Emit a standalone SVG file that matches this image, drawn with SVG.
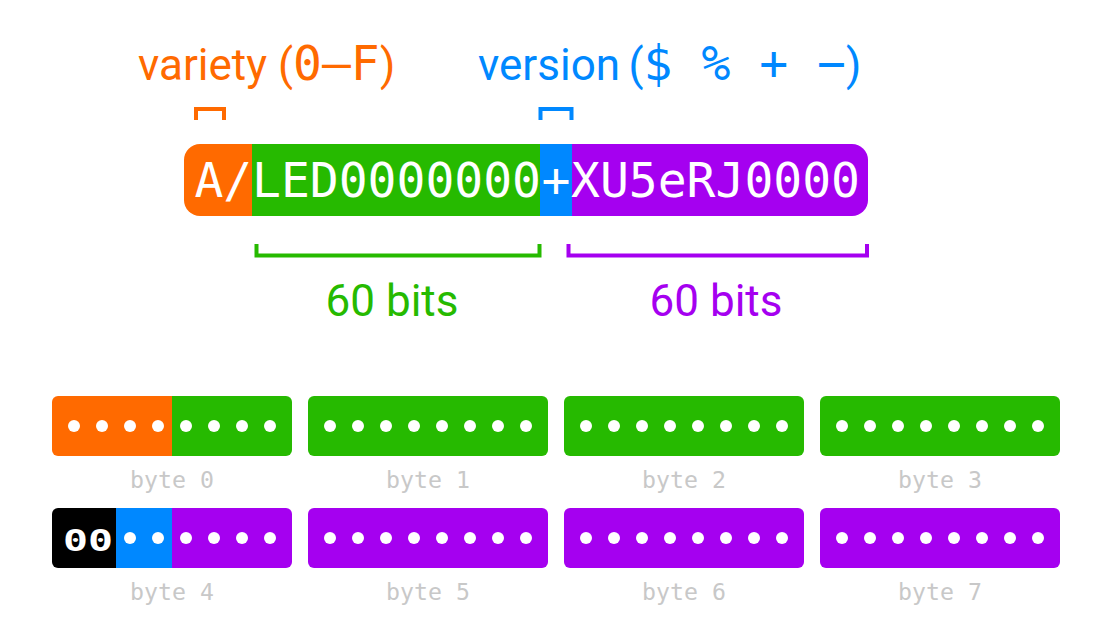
<svg xmlns="http://www.w3.org/2000/svg" width="1108" height="620" viewBox="0 0 1108 620">
<style>
.sans{font-family:Roboto,"Liberation Sans",sans-serif}
.mono{font-family:"DejaVu Sans Mono","Liberation Mono",monospace}
.or{fill:#ff6a00}.gr{fill:#26ba00}.bl{fill:#0088ff}.pu{fill:#a500f0}.bk{fill:#000}
.dot{fill:#fff}
.lbl{font-family:"DejaVu Sans Mono","Liberation Mono",monospace;font-size:23.2px;fill:#c8c8c8;text-anchor:middle}
.br{fill:none;stroke-width:4}
</style>
<defs>
<clipPath id="barClip"><rect x="184" y="144" width="684" height="72" rx="16"/></clipPath>
<clipPath id="b0Clip"><rect x="52" y="396" width="240" height="60" rx="6"/></clipPath>
<clipPath id="b4Clip"><rect x="52" y="508" width="240" height="60" rx="6"/></clipPath>
<g id="dots8">
<circle class="dot" cx="74" cy="0" r="6"/><circle class="dot" cx="102" cy="0" r="6"/><circle class="dot" cx="130" cy="0" r="6"/><circle class="dot" cx="158" cy="0" r="6"/><circle class="dot" cx="186" cy="0" r="6"/><circle class="dot" cx="214" cy="0" r="6"/><circle class="dot" cx="242" cy="0" r="6"/><circle class="dot" cx="270" cy="0" r="6"/>
</g>
</defs>

<g id="label-variety">
<text y="80" font-size="44" class="or"><tspan class="sans" x="138">variety</tspan><tspan class="sans" x="278">(</tspan><tspan class="mono" x="293" font-size="48">0–F</tspan><tspan class="sans" x="380">)</tspan></text>
</g>
<g id="label-version">
<text y="80" font-size="44" class="bl"><tspan class="sans" x="478">version</tspan><tspan class="sans" x="628.5">(</tspan><tspan class="mono" x="643.6" font-size="48">$ % + −</tspan><tspan class="sans" x="846">)</tspan></text>
</g>

<g id="id-bar">
<g clip-path="url(#barClip)">
<rect class="or" x="184" y="144" width="68" height="72"/>
<rect class="gr" x="252" y="144" width="288" height="72"/>
<rect class="bl" x="540" y="144" width="32" height="72"/>
<rect class="pu" x="572" y="144" width="296" height="72"/>
</g>
<text class="mono" y="197" font-size="48" fill="#fff"><tspan x="194.4">A/</tspan><tspan x="252">LED0000000</tspan><tspan x="541.6">+</tspan><tspan x="571">XU5eRJ0000</tspan></text>
</g>

<g id="connectors">
<path class="br" stroke="#ff6a00" d="M196,120 V109 H224 V120"/>
<path class="br" stroke="#0088ff" d="M540.5,120 V109 H571.5 V120"/>
<path class="br" stroke="#26ba00" d="M256.5,244 V255.5 H539.5 V244"/>
<path class="br" stroke="#a500f0" d="M568.5,244 V255.5 H867 V244"/>
</g>

<g id="label-bits-green"><text class="sans gr" x="392" y="316" font-size="44" text-anchor="middle">60 bits</text></g>
<g id="label-bits-purple"><text class="sans pu" x="716" y="316" font-size="44" text-anchor="middle">60 bits</text></g>

<g id="byte0">
<g clip-path="url(#b0Clip)">
<rect class="or" x="52" y="396" width="120" height="60"/>
<rect class="gr" x="172" y="396" width="120" height="60"/>
</g>
<use href="#dots8" y="426"/>
<text class="lbl" x="172" y="488">byte 0</text>
</g>
<g id="byte1">
<rect class="gr" x="308" y="396" width="240" height="60" rx="6"/>
<use href="#dots8" x="256" y="426"/>
<text class="lbl" x="428" y="488">byte 1</text>
</g>
<g id="byte2">
<rect class="gr" x="564" y="396" width="240" height="60" rx="6"/>
<use href="#dots8" x="512" y="426"/>
<text class="lbl" x="684" y="488">byte 2</text>
</g>
<g id="byte3">
<rect class="gr" x="820" y="396" width="240" height="60" rx="6"/>
<use href="#dots8" x="768" y="426"/>
<text class="lbl" x="940" y="488">byte 3</text>
</g>

<g id="byte4">
<g clip-path="url(#b4Clip)">
<rect class="bk" x="52" y="508" width="64" height="60"/>
<rect class="bl" x="116" y="508" width="56" height="60"/>
<rect class="pu" x="172" y="508" width="120" height="60"/>
</g>
<text class="mono" x="63" y="550.5" font-size="31" font-weight="bold" fill="#fff" textLength="50" lengthAdjust="spacingAndGlyphs">00</text>
<circle class="dot" cx="130" cy="538" r="6"/><circle class="dot" cx="158" cy="538" r="6"/><circle class="dot" cx="186" cy="538" r="6"/><circle class="dot" cx="214" cy="538" r="6"/><circle class="dot" cx="242" cy="538" r="6"/><circle class="dot" cx="270" cy="538" r="6"/>
<text class="lbl" x="172" y="600">byte 4</text>
</g>
<g id="byte5">
<rect class="pu" x="308" y="508" width="240" height="60" rx="6"/>
<use href="#dots8" x="256" y="538"/>
<text class="lbl" x="428" y="600">byte 5</text>
</g>
<g id="byte6">
<rect class="pu" x="564" y="508" width="240" height="60" rx="6"/>
<use href="#dots8" x="512" y="538"/>
<text class="lbl" x="684" y="600">byte 6</text>
</g>
<g id="byte7">
<rect class="pu" x="820" y="508" width="240" height="60" rx="6"/>
<use href="#dots8" x="768" y="538"/>
<text class="lbl" x="940" y="600">byte 7</text>
</g>
</svg>
